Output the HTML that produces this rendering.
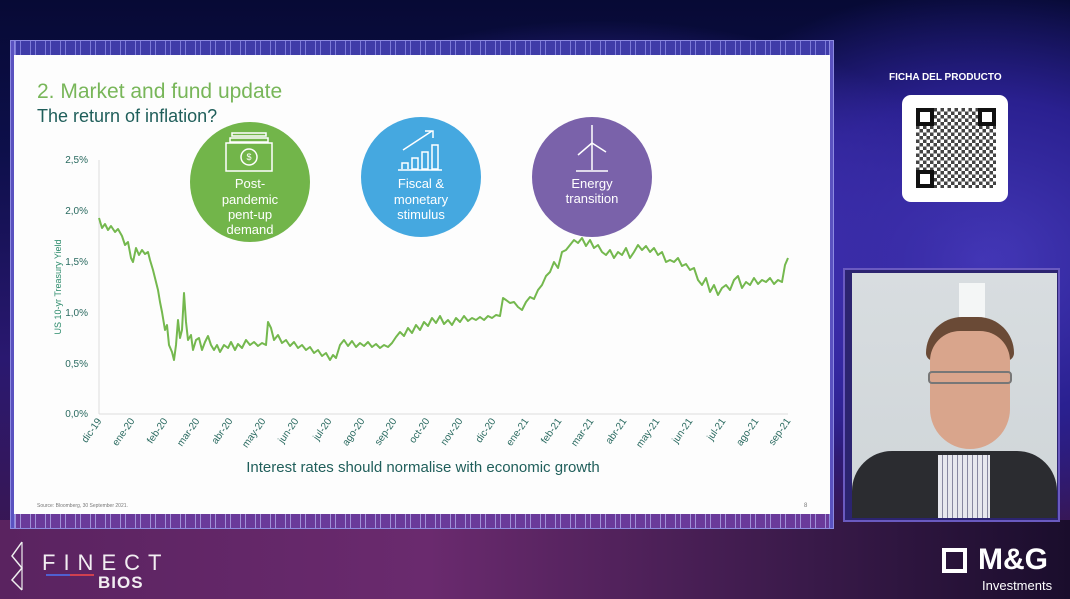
<!DOCTYPE html>
<html><head><meta charset="utf-8"><style>
*{margin:0;padding:0;box-sizing:border-box}
body{width:1070px;height:599px;overflow:hidden;position:relative;font-family:"Liberation Sans",sans-serif;
background:radial-gradient(ellipse 520px 300px at 600px 260px,#4a3cc0 0%,#3a2ca8 45%,transparent 80%),
radial-gradient(ellipse 420px 320px at 980px 260px,#4438b8 0%,#2a2090 50%,transparent 85%),
linear-gradient(180deg,#070a35 0%,#0d0f4a 25%,#2a1870 60%,#3e1648 100%);}
.bot{position:absolute;left:0;top:520px;width:1070px;height:79px;background:linear-gradient(90deg,#5a2360 0%,#6a2a6e 40%,#3a1a4a 75%,#1a0d2c 100%)}
.band{position:absolute;background:#4a48b8;border:1px solid #8c8ae0}
.slide{position:absolute;left:14px;top:55px;width:816px;height:459px;background:#fdfdfd}
.t{position:absolute;white-space:nowrap}
</style></head><body>
<div class="bot"></div>
<div class="band" style="left:10px;top:40px;width:824px;height:16px;background:repeating-linear-gradient(90deg,#3f3ca8 0 4px,#7c7ad8 4px 5px,#3f3ca8 5px 9px,#7c7ad8 9px 10px,#3f3ca8 10px 15px)"></div>
<div class="band" style="left:10px;top:513px;width:824px;height:16px;background:repeating-linear-gradient(90deg,#6a3a9a 0 4px,#a090d8 4px 5px,#6a3a9a 5px 9px,#a090d8 9px 10px,#6a3a9a 10px 15px)"></div>
<div class="band" style="left:10px;top:40px;width:5px;height:489px;background:#5a52c0"></div>
<div class="band" style="left:829px;top:40px;width:5px;height:489px;background:#5a52c0"></div>
<div class="slide"></div>
<div class="t" style="left:37px;top:80px;font-size:21px;color:#78b659">2. Market and fund update</div>
<div class="t" style="left:37px;top:106px;font-size:18px;color:#1f5e5a">The return of inflation?</div>
<svg style="position:absolute;left:0;top:0" width="1070" height="599">
<g font-family="Liberation Sans" font-size="10" fill="#2a6a60" text-anchor="end">
<text x="88" y="163">2,5%</text><text x="88" y="214">2,0%</text><text x="88" y="265">1,5%</text>
<text x="88" y="316">1,0%</text><text x="88" y="367">0,5%</text><text x="88" y="417">0,0%</text>
</g>
<line x1="99" y1="160" x2="99" y2="414" stroke="#ddd"/>
<line x1="99" y1="414" x2="788" y2="414" stroke="#ddd"/>
<text transform="translate(61,287) rotate(-90)" font-size="9" fill="#2a8a6a" text-anchor="middle">US 10-yr Treasury Yield</text>
<g font-size="10" fill="#2a6a60" text-anchor="end">
<text transform="translate(102,421) rotate(-55)">dic-19</text>
<text transform="translate(135,421) rotate(-55)">ene-20</text>
<text transform="translate(168,421) rotate(-55)">feb-20</text>
<text transform="translate(200,421) rotate(-55)">mar-20</text>
<text transform="translate(233,421) rotate(-55)">abr-20</text>
<text transform="translate(266,421) rotate(-55)">may-20</text>
<text transform="translate(299,421) rotate(-55)">jun-20</text>
<text transform="translate(332,421) rotate(-55)">jul-20</text>
<text transform="translate(365,421) rotate(-55)">ago-20</text>
<text transform="translate(397,421) rotate(-55)">sep-20</text>
<text transform="translate(430,421) rotate(-55)">oct-20</text>
<text transform="translate(463,421) rotate(-55)">nov-20</text>
<text transform="translate(496,421) rotate(-55)">dic-20</text>
<text transform="translate(529,421) rotate(-55)">ene-21</text>
<text transform="translate(562,421) rotate(-55)">feb-21</text>
<text transform="translate(594,421) rotate(-55)">mar-21</text>
<text transform="translate(627,421) rotate(-55)">abr-21</text>
<text transform="translate(660,421) rotate(-55)">may-21</text>
<text transform="translate(693,421) rotate(-55)">jun-21</text>
<text transform="translate(726,421) rotate(-55)">jul-21</text>
<text transform="translate(759,421) rotate(-55)">ago-21</text>
<text transform="translate(791,421) rotate(-55)">sep-21</text>
</g>
<polyline fill="none" stroke="#74b84e" stroke-width="2" stroke-linejoin="round" points="99,218 102,228 105,224 108,230 111,226 115,232 118,229 122,236 125,245 128,242 131,258 133,262 136,248 139,255 142,250 145,254 148,252 150,260 153,270 155,278 158,290 160,302 162,312 165,330 167,325 169,345 172,352 174,360 176,345 178,320 180,338 182,330 184,293 186,322 188,340 191,335 193,350 196,340 199,338 202,350 205,342 208,336 211,345 214,350 217,345 220,352 224,345 228,348 231,342 235,350 238,344 242,348 246,340 250,345 254,342 258,346 262,343 266,345 268,322 271,328 274,340 278,335 282,343 286,340 290,346 294,342 298,348 302,345 306,350 310,347 314,353 318,350 322,356 326,353 330,360 333,355 336,358 340,345 344,340 348,346 352,341 356,347 360,343 364,346 368,342 372,347 376,344 380,348 384,345 388,347 392,343 396,337 400,332 404,336 408,328 412,333 416,325 420,330 424,322 428,326 432,318 436,323 440,316 444,324 448,320 452,325 456,318 460,322 464,316 468,321 472,318 476,320 480,317 484,320 488,316 492,318 496,315 500,316 503,298 506,300 510,303 514,302 518,307 522,310 526,302 530,297 534,299 538,290 542,285 546,276 550,272 554,262 558,268 562,252 566,250 570,245 574,240 578,243 582,238 586,246 590,240 594,248 598,245 602,252 606,255 610,250 614,258 618,252 622,255 626,248 630,258 634,252 638,245 642,250 646,246 650,252 654,248 658,255 662,252 666,262 670,260 674,262 678,258 682,266 686,264 690,270 694,268 698,280 702,285 706,278 710,292 714,285 718,295 722,288 726,285 730,290 734,280 738,276 742,288 746,282 750,285 754,278 758,284 762,280 766,282 770,278 774,284 778,280 782,282 785,265 788,258"/>
<circle cx="250" cy="182" r="60" fill="#72b54a"/>
<circle cx="421" cy="177" r="60" fill="#45a8e0"/>
<circle cx="592" cy="177" r="60" fill="#7a62aa"/>
<g stroke="#fff" fill="none" stroke-width="1.5">
<rect x="226" y="143" width="46" height="28"/><rect x="230" y="138" width="38" height="4"/><rect x="232" y="133" width="34" height="3"/>
<circle cx="249" cy="157" r="8"/>
<polyline points="402,169 402,163 408,163 408,169"/><rect x="412" y="158" width="6" height="11"/><rect x="422" y="152" width="6" height="17"/><rect x="432" y="145" width="6" height="24"/><line x1="398" y1="170" x2="442" y2="170"/><line x1="403" y1="150" x2="432" y2="131"/><polyline points="425,131 433,131 433,138"/>
<line x1="592" y1="143" x2="592" y2="170"/><line x1="576" y1="171" x2="608" y2="171"/><line x1="592" y1="143" x2="592" y2="125"/><line x1="592" y1="143" x2="578" y2="155"/><line x1="592" y1="143" x2="606" y2="152"/>
</g>
<text x="249" y="160" font-size="9" fill="#fff" text-anchor="middle">$</text>
<g font-size="13" fill="#fff" text-anchor="middle">
<text x="250" y="188">Post-</text><text x="250" y="204">pandemic</text><text x="250" y="219">pent-up</text><text x="250" y="234">demand</text>
<text x="421" y="188">Fiscal &amp;</text><text x="421" y="204">monetary</text><text x="421" y="219">stimulus</text>
<text x="592" y="188">Energy</text><text x="592" y="203">transition</text>
</g>
<text x="423" y="472" font-size="15" fill="#1f5e5a" text-anchor="middle">Interest rates should normalise with economic growth</text>
<text x="37" y="507" font-size="5" fill="#777">Source: Bloomberg, 30 September 2021.</text>
<text x="804" y="507" font-size="6" fill="#777">8</text>
</svg>
<div class="t" style="left:889px;top:72px;font-size:10px;font-weight:bold;color:#fff">FICHA DEL PRODUCTO</div>
<div style="position:absolute;left:902px;top:95px;width:106px;height:107px;background:#fff;border-radius:9px"></div>
<div style="position:absolute;left:916px;top:108px;width:80px;height:80px;background:repeating-conic-gradient(#222 0 25%,#fff 0 50%) 0 0/7px 7px;opacity:.85"></div>
<div style="position:absolute;left:916px;top:108px;width:18px;height:18px;border:4px solid #111;background:#fff"></div>
<div style="position:absolute;left:978px;top:108px;width:18px;height:18px;border:4px solid #111;background:#fff"></div>
<div style="position:absolute;left:916px;top:170px;width:18px;height:18px;border:4px solid #111;background:#fff"></div>
<div style="position:absolute;left:843px;top:268px;width:217px;height:254px;background:#2c2470;border:2px solid #6a5ac0"></div>
<div style="position:absolute;left:852px;top:273px;width:205px;height:245px;background:linear-gradient(180deg,#d8dde0,#cfd5d8);overflow:hidden">
<div style="position:absolute;left:107px;top:10px;width:26px;height:35px;background:#f4f6f6"></div>
<div style="position:absolute;left:74px;top:44px;width:88px;height:44px;background:#6a4a36;border-radius:45px 45px 10px 10px"></div>
<div style="position:absolute;left:78px;top:58px;width:80px;height:118px;background:#d9a58c;border-radius:30px 30px 40px 40px"></div>
<div style="position:absolute;left:76px;top:98px;width:84px;height:13px;border:2px solid #777;border-radius:4px"></div>
<div style="position:absolute;left:0;top:178px;width:205px;height:70px;background:#2b2c30;border-radius:40px 40px 0 0"></div>
<div style="position:absolute;left:86px;top:182px;width:52px;height:65px;background:repeating-linear-gradient(90deg,#e8e8ee 0 4px,#8888a0 4px 5px)"></div>
</div>
<svg style="position:absolute;left:10px;top:540px" width="20" height="52"><polyline points="12,2 2,16 12,28 2,40 12,50" fill="none" stroke="#eee" stroke-width="1.5"/><polyline points="12,2 12,50" fill="none" stroke="#eee" stroke-width="1.2"/></svg>
<div class="t" style="left:42px;top:550px;font-size:22px;color:#f2eef2;letter-spacing:8px">FINECT</div>
<div style="position:absolute;left:46px;top:574px;width:48px;height:2px;background:#5060d0"></div>
<div style="position:absolute;left:70px;top:574px;width:24px;height:2px;background:#d04050"></div>
<div class="t" style="left:98px;top:573px;font-size:17px;font-weight:bold;color:#f2eef2;letter-spacing:1px">BIOS</div>
<div style="position:absolute;left:942px;top:548px;width:25px;height:25px;border:4px solid #fff"></div>
<div class="t" style="left:978px;top:543px;font-size:30px;font-weight:bold;color:#fff">M&amp;G</div>
<div class="t" style="left:982px;top:578px;font-size:13px;color:#fff">Investments</div>
</body></html>
